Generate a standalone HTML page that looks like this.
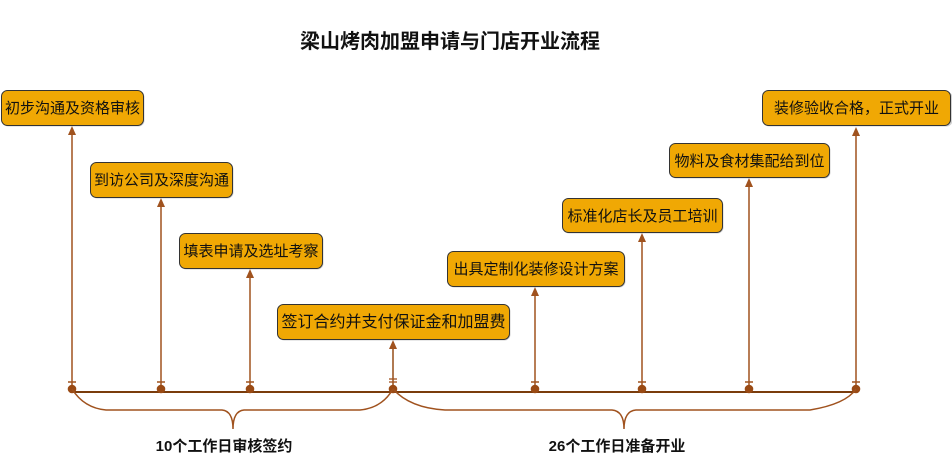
<!DOCTYPE html>
<html><head><meta charset="utf-8"><style>
html,body{margin:0;padding:0;background:#fff;}
svg{display:block;}
.bt{font-family:"Liberation Sans","Noto Sans CJK SC",sans-serif;font-size:15px;fill:#111;text-anchor:middle;}
.lb{font-family:"Liberation Sans","Noto Sans CJK SC",sans-serif;font-size:15px;font-weight:bold;fill:#111;text-anchor:middle;}
</style></head><body>
<svg width="952" height="466" viewBox="0 0 952 466" xmlns="http://www.w3.org/2000/svg">
<text x="450" y="48" style="font-family:'Liberation Sans','Noto Sans CJK SC',sans-serif;font-size:20px;font-weight:bold;fill:#111;text-anchor:middle;">梁山烤肉加盟申请与门店开业流程</text>

<!-- connectors -->
<g stroke="#a0521e" stroke-width="1.5" fill="none">
<line x1="72" y1="389" x2="72" y2="134"/>
<line x1="161" y1="389" x2="161" y2="206"/>
<line x1="250" y1="389" x2="250" y2="277"/>
<line x1="535" y1="389" x2="535" y2="295"/>
<line x1="642" y1="389" x2="642" y2="241"/>
<line x1="749" y1="389" x2="749" y2="186"/>
<line x1="856" y1="389" x2="856" y2="135"/>
<line x1="68" y1="382" x2="76" y2="382"/>
<line x1="157" y1="382" x2="165" y2="382"/>
<line x1="246" y1="382" x2="254" y2="382"/>
<line x1="531" y1="382" x2="539" y2="382"/>
<line x1="638" y1="382" x2="646" y2="382"/>
<line x1="745" y1="382" x2="753" y2="382"/>
<line x1="852" y1="382" x2="860" y2="382"/>
</g>
<line x1="393" y1="389" x2="393" y2="347" stroke="#b07a52" stroke-width="2"/>
<g stroke="#a0521e" stroke-width="1.3">
<line x1="389" y1="379" x2="397" y2="379"/>
<line x1="389" y1="382" x2="397" y2="382"/>
</g>
<g fill="#a0521e">
<polygon points="72,126 68,135 76,135"/>
<polygon points="161,198 157,207 165,207"/>
<polygon points="250,269 246,278 254,278"/>
<polygon points="393,340 389,349 397,349"/>
<polygon points="535,287 531,296 539,296"/>
<polygon points="642,233 638,242 646,242"/>
<polygon points="749,178 745,187 753,187"/>
<polygon points="856,127 852,136 860,136"/>
</g>

<!-- timeline -->
<line x1="72" y1="392" x2="856" y2="392" stroke="#7a3c0c" stroke-width="2"/>
<g fill="#9a4a14">
<circle cx="72" cy="389" r="4.3"/>
<circle cx="161" cy="389" r="4.3"/>
<circle cx="250" cy="389" r="4.3"/>
<circle cx="393" cy="389" r="4.3"/>
<circle cx="535" cy="389" r="4.3"/>
<circle cx="642" cy="389" r="4.3"/>
<circle cx="749" cy="389" r="4.3"/>
<circle cx="856" cy="389" r="4.3"/>
</g>

<!-- braces -->
<g stroke="#a0521e" stroke-width="1.5" fill="none">
<path d="M72,389 Q84,408 106,410 L222,410 Q233,411 233,429 Q233,411 244,410 L360,410 Q382,408 393,389"/>
<path d="M393,389 Q410,408 445,410 L612,410 Q624,411 624,429 Q624,411 636,410 L810,410 Q846,404 856,389"/>
</g>

<!-- boxes -->
<g>
<rect x="2.5" y="91.5" width="142" height="35" rx="6" fill="#999" opacity="0.45"/>
<rect x="1.5" y="90.5" width="142" height="35" rx="6" fill="#f0a804" stroke="#333" stroke-width="1"/>
<text class="bt" x="72.5" y="113">初步沟通及资格审核</text>

<rect x="91.5" y="163.5" width="142" height="35" rx="6" fill="#999" opacity="0.45"/>
<rect x="90.5" y="162.5" width="142" height="35" rx="6" fill="#f0a804" stroke="#333" stroke-width="1"/>
<text class="bt" x="161.5" y="185">到访公司及深度沟通</text>

<rect x="180.5" y="234.5" width="143" height="35" rx="6" fill="#999" opacity="0.45"/>
<rect x="179.5" y="233.5" width="143" height="35" rx="6" fill="#f0a804" stroke="#333" stroke-width="1"/>
<text class="bt" x="251" y="256">填表申请及选址考察</text>

<rect x="278.5" y="305.5" width="232" height="35" rx="6" fill="#999" opacity="0.45"/>
<rect x="277.5" y="304.5" width="232" height="35" rx="6" fill="#f0a804" stroke="#333" stroke-width="1"/>
<text class="bt" x="393.5" y="327" style="font-size:16px">签订合约并支付保证金和加盟费</text>

<rect x="448.5" y="252.5" width="177" height="35" rx="6" fill="#999" opacity="0.45"/>
<rect x="447.5" y="251.5" width="177" height="35" rx="6" fill="#f0a804" stroke="#333" stroke-width="1"/>
<text class="bt" x="536" y="274">出具定制化装修设计方案</text>

<rect x="563.5" y="199.5" width="160" height="34" rx="6" fill="#999" opacity="0.45"/>
<rect x="562.5" y="198.5" width="160" height="34" rx="6" fill="#f0a804" stroke="#333" stroke-width="1"/>
<text class="bt" x="642.5" y="221">标准化店长及员工培训</text>

<rect x="670.5" y="144.5" width="160" height="34" rx="6" fill="#999" opacity="0.45"/>
<rect x="669.5" y="143.5" width="160" height="34" rx="6" fill="#f0a804" stroke="#333" stroke-width="1"/>
<text class="bt" x="749.5" y="166">物料及食材集配给到位</text>

<rect x="763.5" y="91.5" width="189" height="35" rx="6" fill="#999" opacity="0.45"/>
<rect x="762.5" y="90.5" width="188" height="35" rx="6" fill="#f0a804" stroke="#333" stroke-width="1"/>
<text class="bt" x="856.5" y="113">装修验收合格，正式开业</text>
</g>

<text class="lb" x="224" y="451">10个工作日审核签约</text>
<text class="lb" x="617" y="451">26个工作日准备开业</text>
</svg>
</body></html>
